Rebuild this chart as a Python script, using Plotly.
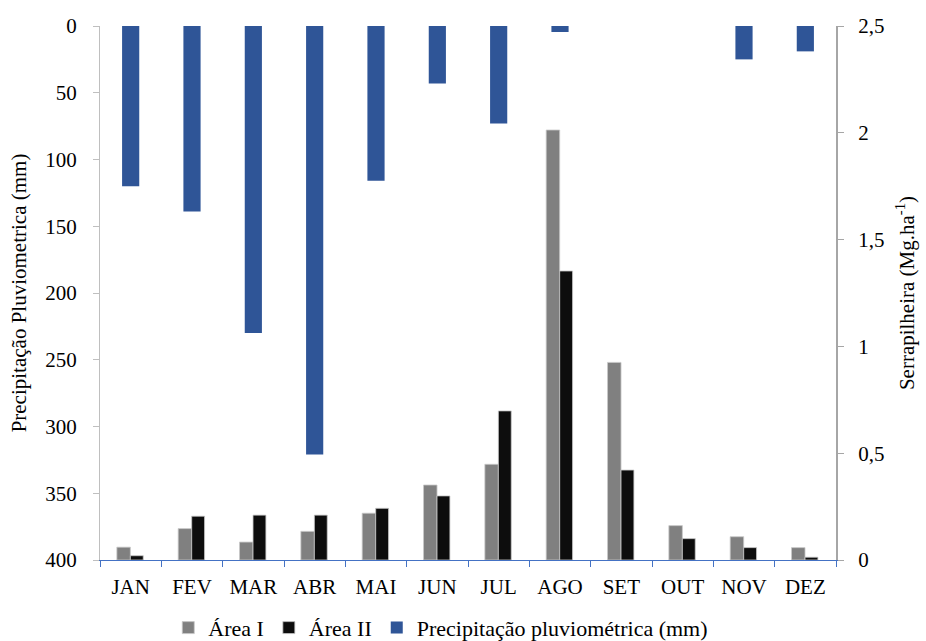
import plotly.graph_objects as go

months = ["JAN", "FEV", "MAR", "ABR", "MAI", "JUN", "JUL", "AGO", "SET", "OUT", "NOV", "DEZ"]
precip = [120, 139, 230, 321, 116, 43, 73, 4.5, 0, 0, 25, 19]
area1 = [0.06, 0.147, 0.084, 0.134, 0.219, 0.351, 0.448, 2.013, 0.925, 0.161, 0.109, 0.058]
area2 = [0.02, 0.205, 0.21, 0.21, 0.242, 0.30, 0.698, 1.353, 0.421, 0.10, 0.058, 0.013]
left_ticks = [0, 50, 100, 150, 200, 250, 300, 350, 400]
right_vals = [0, 0.5, 1, 1.5, 2, 2.5]
right_text = ["0", "0,5", "1", "1,5", "2", "2,5"]

FONT = "Liberation Serif"
FS = 21

fig = go.Figure()
fig.add_trace(go.Bar(
    x=months, y=area1, name="Área I", yaxis="y2",
    marker=dict(color="#808080", line=dict(color="#C8C8C8", width=0.8)),
    offset=-0.225, width=0.22,
))
fig.add_trace(go.Bar(
    x=months, y=area2, name="Área II", yaxis="y2",
    marker=dict(color="#0D0D0D", line=dict(color="#C8C8C8", width=0.8)),
    offset=-0.005, width=0.21,
))
fig.add_trace(go.Bar(
    x=months, y=precip, name="Precipitação pluviométrica (mm)", yaxis="y",
    marker=dict(color="#2F5597", line=dict(width=0)),
    offset=-0.14, width=0.28,
))

fig.update_layout(
    width=926, height=641,
    margin=dict(l=100, r=90, t=26, b=81, autoexpand=False),
    paper_bgcolor="white", plot_bgcolor="white",
    barmode="overlay",
    font=dict(family=FONT, size=FS, color="#000000"),
    showlegend=True,
    legend=dict(orientation="h", x=0.463, xanchor="center", y=-0.127, yanchor="middle",
                font=dict(family=FONT, size=22), itemwidth=30,
                traceorder="normal", bgcolor="rgba(0,0,0,0)"),
    xaxis=dict(
        type="category", showgrid=False, showline=True, linecolor="#4472C4", linewidth=1,
        ticks="outside", tickson="boundaries", ticklen=6, tickcolor="#4472C4",
        tickfont=dict(family=FONT, size=FS), zeroline=False, ticklabelstandoff=8,
    ),
    yaxis=dict(
        range=[400, 0], tickvals=left_ticks, showgrid=False, zeroline=False,
        showline=True, linecolor="#BFBFBF", linewidth=1,
        ticks="outside", ticklen=6, tickcolor="#BFBFBF",
        tickfont=dict(family=FONT, size=FS), ticklabelstandoff=12,
        title=dict(text="Precipitação Pluviometrica (mm)", font=dict(family=FONT, size=FS), standoff=12),
    ),
    yaxis2=dict(
        range=[0, 2.5], overlaying="y", side="right", tickvals=right_vals, ticktext=right_text,
        showgrid=False, zeroline=False, showline=True, linecolor="#A6A6A6", linewidth=2,
        ticks="outside", ticklen=6, tickcolor="#A6A6A6",
        tickfont=dict(family=FONT, size=FS), ticklabelstandoff=10,
        title=dict(text="Serrapilheira (Mg.ha<sup>-1</sup>)", font=dict(family=FONT, size=FS), standoff=16),
    ),
)

fig.write_html("out.html")
